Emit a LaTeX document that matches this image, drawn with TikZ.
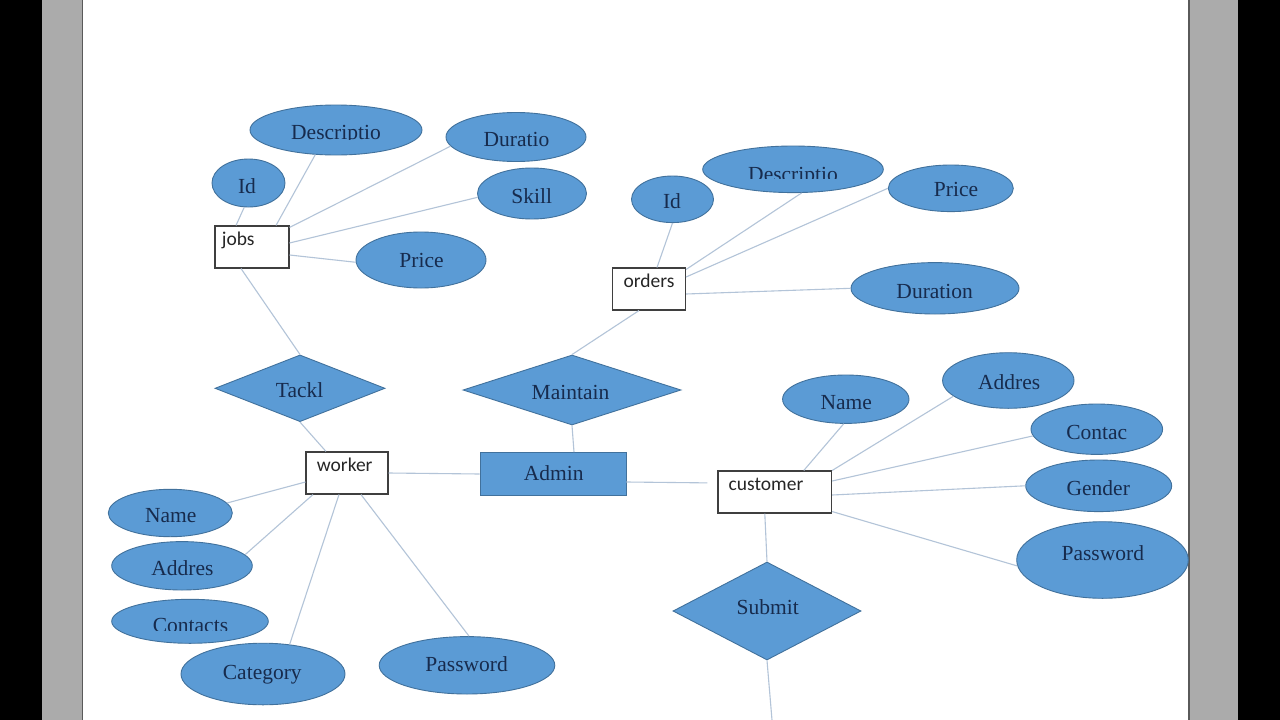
\documentclass[tikz,border=0pt]{standalone}
\usepackage{fontspec}
\setmainfont{Liberation Serif}
\newfontfamily\boxfont{Carlito}
\usetikzlibrary{shapes.geometric}
\definecolor{attrfill}{HTML}{5B9BD5}
\definecolor{attredge}{HTML}{41719C}
\definecolor{attrtext}{HTML}{172B4D}
\definecolor{conncol}{HTML}{B3C4D8}
\definecolor{sidegray}{HTML}{ABABAB}
\definecolor{edgegray}{HTML}{5A5A5A}
\definecolor{boxedge}{HTML}{3F3F3F}
\begin{document}
\begin{tikzpicture}[x=1pt,y=-1pt,
  attr/.style={ellipse, fill=attrfill, draw=attredge, line width=0.9pt, inner sep=0pt},
  relshape/.style={diamond, fill=attrfill, draw=attredge, line width=0.9pt, inner sep=0pt},
  entbox/.style={rectangle, fill=white, draw=boxedge, line width=1.1pt, inner sep=0pt},
  adminbox/.style={rectangle, fill=attrfill, draw=attredge, line width=0.9pt, inner sep=0pt},
  atxt/.style={font=\fontsize{21.5}{21.5}\selectfont, text=attrtext, anchor=base, inner sep=0pt},
  btxt/.style={font=\boxfont\fontsize{19.5}{19.5}\selectfont, text=black!85, anchor=base west, inner sep=0pt},
  conn/.style={draw=conncol, line width=1.1pt},
]
\useasboundingbox (0,0) rectangle (1280,720);
% page background
\fill[black] (0,0) rectangle (1280,720);
\fill[sidegray] (42,0) rectangle (1238,720);
\fill[white] (83,0) rectangle (1189,720);
\draw[edgegray, line width=1.5pt] (82.5,0) -- (82.5,720);
\draw[edgegray, line width=1.5pt] (1189,0) -- (1189,720);

% ---------- jobs group ----------
\node[entbox, minimum width=74pt, minimum height=42pt] (jobs) at (252,247) {};
\node[btxt] (jobst) at (221.7,245.5) {jobs};
\node[attr, minimum width=172pt, minimum height=50pt] (jdesc) at (336,130) {};
\node[attr, minimum width=140pt, minimum height=49pt] (jdur) at (516,137) {};
\node[attr, minimum width=73pt, minimum height=48pt] (jid) at (248.5,183) {};
\node[attr, minimum width=109pt, minimum height=51pt] (jskill) at (532,193.5) {};
\node[attr, minimum width=130pt, minimum height=56pt] (jprice) at (421,260) {};
\begin{scope}
  \clip (240,100) rectangle (430,139.5);
  \node[atxt] (jdesct) at (336,139.5) {Descriptio};
\end{scope}
\node[atxt] (jdurt) at (516.5,146.5) {Duratio};
\node[atxt] (jidt) at (247,193.5) {Id};
\node[atxt] (jskillt) at (531.7,203) {Skill};
\node[atxt] (jpricet) at (421.5,267) {Price};

% ---------- orders group ----------
\node[entbox, minimum width=73pt, minimum height=42pt] (orders) at (649,289) {};
\node[btxt] (orderst) at (623.3,287.7) {orders};
\node[attr, minimum width=82pt, minimum height=46.6pt] (oid) at (672.5,199.3) {};
\node[attr, minimum width=180.6pt, minimum height=46.6pt] (odesc) at (793,169.3) {};
\node[attr, minimum width=125pt, minimum height=46.6pt] (oprice) at (950.8,188.3) {};
\node[attr, minimum width=168pt, minimum height=51.4pt] (odur) at (935,288.3) {};
\node[atxt] (oidt) at (672,208) {Id};
\begin{scope}
  \clip (700,150) rectangle (890,178.5);
  \node[atxt] (odesct) at (793,181) {Descriptio};
\end{scope}
\node[atxt] (opricet) at (956,196.5) {Price};
\node[atxt] (odurt) at (934.7,298.5) {Duration};

% ---------- relationships and central entities ----------
\node[relshape, minimum width=170pt, minimum height=66.7pt] (tackl) at (300,388.3) {};
\node[atxt] (tacklt) at (299.7,397.5) {Tackl};
\node[relshape, minimum width=218pt, minimum height=70pt] (maintain) at (572,390) {};
\node[atxt] (maintaint) at (570.5,399.5) {Maintain};
\node[entbox, minimum width=82pt, minimum height=42pt] (worker) at (347,473) {};
\node[btxt] (workert) at (316.7,471.7) {worker};
\node[adminbox, minimum width=146pt, minimum height=43pt] (admin) at (553,474) {};
\node[atxt] (admint) at (553.8,480) {Admin};
\node[entbox, minimum width=113.7pt, minimum height=42pt] (customer) at (774.8,492) {};
\node[btxt] (customert) at (728.5,490.7) {customer};
\node[relshape, minimum width=188pt, minimum height=98pt] (submit) at (767,611) {};
\node[atxt] (submitt) at (767.8,614.5) {Submit};

% ---------- customer attributes ----------
\node[attr, minimum width=126.4pt, minimum height=48.4pt] (cname) at (845.8,399.2) {};
\node[attr, minimum width=131.4pt, minimum height=55.6pt] (caddr) at (1008.3,380.5) {};
\node[attr, minimum width=131.6pt, minimum height=50.4pt] (ccont) at (1096.8,429.2) {};
\node[attr, minimum width=146pt, minimum height=51.6pt] (cgender) at (1098.7,485.8) {};
\node[attr, minimum width=171.6pt, minimum height=76.6pt] (cpass) at (1102.5,560) {};
\node[atxt] (cnamet) at (846.2,409.3) {Name};
\node[atxt] (caddrt) at (1009.2,389) {Addres};
\node[atxt] (ccontt) at (1096.7,439) {Contac};
\node[atxt] (cgendert) at (1098.3,495) {Gender};
\node[atxt] (cpasst) at (1102.8,560.7) {Password};

% ---------- worker attributes ----------
\node[attr, minimum width=124pt, minimum height=47.4pt] (wname) at (170.3,513) {};
\node[attr, minimum width=140.6pt, minimum height=48.4pt] (waddr) at (182,565.8) {};
\node[attr, minimum width=156.6pt, minimum height=44pt] (wcont) at (190,621.3) {};
\node[attr, minimum width=164pt, minimum height=61.6pt] (wcat) at (263,674) {};
\node[attr, minimum width=175.6pt, minimum height=57.4pt] (wpass) at (467,665.3) {};
\node[atxt] (wnamet) at (170.8,522) {Name};
\node[atxt] (waddrt) at (182.5,575) {Addres};
\begin{scope}
  \clip (110,600) rectangle (270,630);
  \node[atxt] (wcontt) at (190.5,632.2) {Contacts};
\end{scope}
\node[atxt] (wcatt) at (262.3,679) {Category};
\node[atxt] (wpasst) at (466.7,671) {Password};

% ---------- connectors ----------
\draw[conn] (jid.260) -- ([xshift=-16pt]jobs.north);
\draw[conn] (jdesc.230) -- ([xshift=24pt]jobs.north);
\draw[conn] (jdur.188) -- ([yshift=-2pt]jobs.north east);
\draw[conn] (jskill.184) -- ([yshift=4pt]jobs.east);
\draw[conn] (jprice.182) -- ([yshift=-8pt]jobs.east);
\draw[conn] ([xshift=-11pt]jobs.south) -- (tackl.north);

\draw[conn] (oid.south) -- ([xshift=8pt]orders.north);
\draw[conn] (odesc.290) -- ([yshift=-2pt]orders.north east);
\draw[conn] (oprice.west) -- ([yshift=12pt]orders.east);
\draw[conn] (odur.west) -- ([yshift=-5pt]orders.east);
\draw[conn] ([xshift=-10pt]orders.south) -- (maintain.north);

\draw[conn] (tackl.south) -- ([xshift=-21pt]worker.north);
\draw[conn] (maintain.south) -- ([xshift=21pt]admin.north);
\draw[conn] (worker.east) -- (admin.west);
\draw[conn, shorten >=10pt] ([yshift=-8pt]admin.east) -- ([yshift=9pt]customer.west);

\draw[conn] (wname.10) -- ([yshift=-9pt]worker.west);
\draw[conn] (waddr.10) -- ([xshift=-34pt]worker.south);
\draw[conn] (wcat.48) -- ([xshift=-8pt]worker.south);
\draw[conn] (wpass.86) -- ([xshift=14pt]worker.south);

\draw[conn] (cname.265) -- ([xshift=29pt]customer.north);
\draw[conn] (caddr.196) -- (customer.north east);
\draw[conn] (ccont.186) -- ([yshift=11pt]customer.east);
\draw[conn] (cgender.west) -- ([yshift=-3pt]customer.east);
\draw[conn] (cpass.184) -- ([yshift=2pt]customer.south east);
\draw[conn] ([xshift=-10pt]customer.south) -- (submit.north);
\coordinate (tailend) at (772,720);
\draw[conn] (submit.south) -- (tailend);
\end{tikzpicture}
\end{document}
